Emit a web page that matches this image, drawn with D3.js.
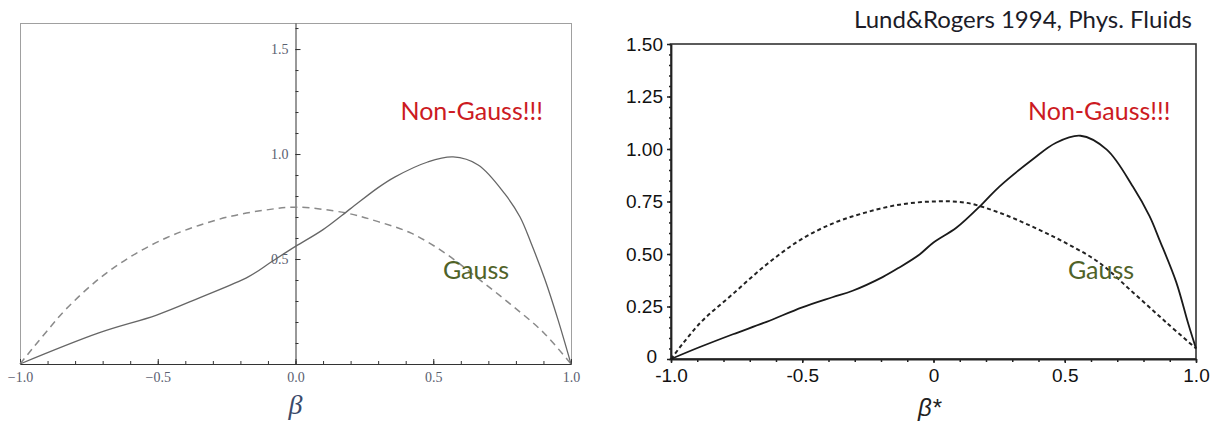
<!DOCTYPE html>
<html>
<head>
<meta charset="utf-8">
<script src="https://cdn.jsdelivr.net/npm/d3@7"></script>
<style>
  html, body { margin: 0; padding: 0; background: #fff; }
  svg { display: block; }
</style>
</head>
<body>
<div id="chart"></div>
<script>
// Left panel: model curves (Mathematica style plot)
const leftGaussBeta  = [-1.0, -0.957, -0.9, -0.834, -0.714, -0.594, -0.47, -0.351, -0.23, -0.11, 0.0, 0.18, 0.30, 0.42, 0.543, 0.66, 0.78, 0.90, 1.0];
const leftGaussValue = [0.0, 0.07, 0.16, 0.26, 0.405, 0.515, 0.6, 0.66, 0.705, 0.733, 0.747, 0.72, 0.678, 0.623, 0.528, 0.41, 0.285, 0.15, 0.0];
const leftNonGaussBeta  = [-1.0, -0.714, -0.504, -0.351, -0.17, -0.087, 0.0, 0.1, 0.2, 0.3, 0.36, 0.48, 0.572, 0.663, 0.76, 0.815, 0.855, 0.906, 0.953, 1.0];
const leftNonGaussValue = [0.0, 0.148, 0.233, 0.314, 0.416, 0.487, 0.56, 0.64, 0.74, 0.84, 0.89, 0.962, 0.986, 0.948, 0.81, 0.70, 0.576, 0.40, 0.21, 0.0];

// Right panel: Lund & Rogers 1994 curves
const rightGaussBeta  = [-1.0, -0.89, -0.764, -0.636, -0.51, -0.385, -0.26, -0.13, 0.0, 0.124, 0.25, 0.377, 0.5, 0.63, 0.76, 0.886, 1.0];
const rightGaussValue = [0.0, 0.17, 0.31, 0.45, 0.565, 0.645, 0.697, 0.735, 0.75, 0.744, 0.697, 0.63, 0.555, 0.46, 0.317, 0.175, 0.05];
const rightNonGaussBeta  = [-1.0, -0.89, -0.764, -0.636, -0.5, -0.385, -0.308, -0.194, -0.13, -0.053, 0.0, 0.087, 0.187, 0.25, 0.377, 0.467, 0.56, 0.66, 0.76, 0.823, 0.86, 0.925, 0.97, 1.0];
const rightNonGaussValue = [0.0, 0.057, 0.118, 0.177, 0.246, 0.294, 0.325, 0.39, 0.436, 0.498, 0.555, 0.625, 0.74, 0.82, 0.95, 1.03, 1.063, 0.997, 0.82, 0.68, 0.57, 0.365, 0.17, 0.05];

// Tick values and labels
const leftXTicks = [-1, -0.5, 0, 0.5, 1];
const leftXTickLabels = ["\u22121.0", "\u22120.5", "0.0", "0.5", "1.0"];
const leftYTicks = [0.5, 1.0, 1.5];
const leftYTickLabels = ["0.5", "1.0", "1.5"];
const rightXTicks = [-1, -0.5, 0, 0.5, 1];
const rightXTickLabels = ["-1.0", "-0.5", "0", "0.5", "1.0"];
const rightYTicks = [0, 0.25, 0.5, 0.75, 1.0, 1.25, 1.5];
const rightYTickLabels = ["0", "0.25", "0.50", "0.75", "1.00", "1.25", "1.50"];

const W = 1220, H = 424;

const svg = d3.select("#chart")
  .append("svg")
  .attr("width", W)
  .attr("height", H);

// Line generator factory
function lineFor(x, y) {
  return d3.line()
    .x(d => x(d[0]))
    .y(d => y(d[1]))
    .curve(d3.curveCatmullRom.alpha(0.5));
}

// Strip the default d3 axis font settings
function styleAxis(g, family, size, color) {
  g.attr("font-family", null).attr("font-size", null);
  g.selectAll("text")
    .attr("font-family", family)
    .attr("font-size", size)
    .attr("fill", color);
}

/* ---------------- Left panel ---------------- */
const lx = d3.scaleLinear().domain([-1, 1]).range([20, 571]);
const ly = d3.scaleLinear().domain([0, 1.624]).range([364, 23]);
const left = svg.append("g");

// Frame
left.append("rect")
  .attr("x", lx(-1) + 0.5)
  .attr("y", ly(1.624) + 0.5)
  .attr("width", lx(1) - lx(-1))
  .attr("height", ly(0) - ly(1.624))
  .attr("fill", "none")
  .attr("stroke", "#a0a0a0")
  .attr("stroke-width", 1);

// Minor x ticks
left.append("g")
  .attr("transform", "translate(0," + ly(0) + ")")
  .call(d3.axisBottom(lx).tickValues(lx.ticks(20)).tickSize(-3).tickSizeOuter(0).tickFormat(""))
  .call(g => g.select(".domain").remove())
  .selectAll("line").attr("stroke", "#333");

// Major x axis
const lgx = left.append("g")
  .attr("transform", "translate(0," + ly(0) + ")")
  .call(d3.axisBottom(lx).tickValues(leftXTicks).tickSize(-5).tickSizeOuter(0).tickPadding(8)
    .tickFormat((d, i) => leftXTickLabels[i]));
lgx.select(".domain").attr("stroke", "#333");
lgx.selectAll("line").attr("stroke", "#333");
styleAxis(lgx, "'Liberation Serif', serif", 14, "#5a6070");

// Minor y ticks
left.append("g")
  .attr("transform", "translate(" + lx(0) + ",0)")
  .call(d3.axisLeft(ly).tickValues(ly.ticks(16).filter(d => d > 0)).tickSize(-3).tickSizeOuter(0).tickFormat(""))
  .call(g => g.select(".domain").remove())
  .selectAll("line").attr("stroke", "#333");

// Major y axis
const lgy = left.append("g")
  .attr("transform", "translate(" + lx(0) + ",0)")
  .call(d3.axisLeft(ly).tickValues(leftYTicks).tickSize(-5).tickSizeOuter(0).tickPadding(7)
    .tickFormat((d, i) => leftYTickLabels[i]));
lgy.select(".domain").attr("stroke", "#333");
lgy.selectAll("line").attr("stroke", "#333");
styleAxis(lgy, "'Liberation Serif', serif", 14, "#5a6070");

// Curves
left.append("path")
  .datum(d3.zip(leftGaussBeta, leftGaussValue))
  .attr("d", lineFor(lx, ly))
  .attr("fill", "none")
  .attr("stroke", "#8a8a8a")
  .attr("stroke-width", 1.5)
  .attr("stroke-dasharray", "7,5");

left.append("path")
  .datum(d3.zip(leftNonGaussBeta, leftNonGaussValue))
  .attr("d", lineFor(lx, ly))
  .attr("fill", "none")
  .attr("stroke", "#666")
  .attr("stroke-width", 1.3);

// Axis label
left.append("text")
  .attr("x", lx(0))
  .attr("y", 414)
  .attr("text-anchor", "middle")
  .attr("font-family", "'Liberation Serif', serif")
  .attr("font-style", "italic")
  .attr("font-size", 28)
  .attr("fill", "#3a4a6a")
  .text("\u03b2");

// Annotations
left.append("text")
  .attr("x", lx(0.381))
  .attr("y", ly(1.162))
  .attr("font-family", "Lato, sans-serif")
  .attr("font-size", 25)
  .attr("fill", "#cc1a22")
  .text("Non-Gauss!!!");

left.append("text")
  .attr("x", lx(0.535))
  .attr("y", ly(0.405))
  .attr("font-family", "Lato, sans-serif")
  .attr("font-size", 25)
  .attr("fill", "#4f6228")
  .text("Gauss");

/* ---------------- Right panel ---------------- */
const rx = d3.scaleLinear().domain([-1, 1]).range([671, 1196]);
const ry = d3.scaleLinear().domain([0, 1.5]).range([359, 44]);
const right = svg.append("g");

// Frame
right.append("rect")
  .attr("x", rx(-1))
  .attr("y", ry(1.5))
  .attr("width", rx(1) - rx(-1))
  .attr("height", ry(0) - ry(1.5))
  .attr("fill", "none")
  .attr("stroke", "#333")
  .attr("stroke-width", 1.6);

// Minor x ticks
right.append("g")
  .attr("transform", "translate(0," + ry(0) + ")")
  .call(d3.axisBottom(rx).tickValues(rx.ticks(20)).tickSize(3).tickSizeOuter(0).tickFormat(""))
  .call(g => g.select(".domain").remove())
  .selectAll("line").attr("stroke", "#222").attr("stroke-width", 1.5);

// Major x axis
const rgx = right.append("g")
  .attr("transform", "translate(0," + ry(0) + ")")
  .call(d3.axisBottom(rx).tickValues(rightXTicks).tickSize(4).tickSizeOuter(0).tickPadding(6)
    .tickFormat((d, i) => rightXTickLabels[i]));
rgx.select(".domain").attr("stroke", "#222").attr("stroke-width", 1.8);
rgx.selectAll("line").attr("stroke", "#222").attr("stroke-width", 1.5);
styleAxis(rgx, "'Liberation Sans', Arial, sans-serif", 19, "#111");

// Minor y ticks
right.append("g")
  .attr("transform", "translate(" + rx(-1) + ",0)")
  .call(d3.axisLeft(ry).tickValues(ry.ticks(30)).tickSize(2).tickSizeOuter(0).tickFormat(""))
  .call(g => g.select(".domain").remove())
  .selectAll("line").attr("stroke", "#222").attr("stroke-width", 1.5);

// Major y axis
const rgy = right.append("g")
  .attr("transform", "translate(" + rx(-1) + ",0)")
  .call(d3.axisLeft(ry).tickValues(rightYTicks).tickSize(4).tickSizeOuter(0).tickPadding(4)
    .tickFormat((d, i) => rightYTickLabels[i]));
rgy.select(".domain").attr("stroke", "#222").attr("stroke-width", 1.8);
rgy.selectAll("line").attr("stroke", "#222").attr("stroke-width", 1.5);
styleAxis(rgy, "'Liberation Sans', Arial, sans-serif", 19, "#111");
// the zero label sits a little further left, clear of "-1.0"
rgy.selectAll(".tick text").filter(d => d === 0).attr("dx", -6).attr("dy", "0.2em");

// Curves
right.append("path")
  .datum(d3.zip(rightGaussBeta, rightGaussValue))
  .attr("d", lineFor(rx, ry))
  .attr("fill", "none")
  .attr("stroke", "#222")
  .attr("stroke-width", 2)
  .attr("stroke-dasharray", "4,3");

right.append("path")
  .datum(d3.zip(rightNonGaussBeta, rightNonGaussValue))
  .attr("d", lineFor(rx, ry))
  .attr("fill", "none")
  .attr("stroke", "#1a1a1a")
  .attr("stroke-width", 1.8);

// Axis label
right.append("text")
  .attr("x", rx(0) - 4)
  .attr("y", 416)
  .attr("text-anchor", "middle")
  .attr("font-family", "'Liberation Sans', Arial, sans-serif")
  .attr("font-style", "italic")
  .attr("font-size", 24)
  .attr("fill", "#222")
  .text("\u03b2*");

// Annotations
right.append("text")
  .attr("x", rx(0.36))
  .attr("y", ry(1.138))
  .attr("font-family", "Lato, sans-serif")
  .attr("font-size", 25)
  .attr("fill", "#cc1a22")
  .text("Non-Gauss!!!");

right.append("text")
  .attr("x", rx(0.512))
  .attr("y", ry(0.381))
  .attr("font-family", "Lato, sans-serif")
  .attr("font-size", 25)
  .attr("fill", "#4f6228")
  .text("Gauss");

// Source note
svg.append("text")
  .attr("x", 1192)
  .attr("y", 28)
  .attr("text-anchor", "end")
  .attr("font-family", "Lato, sans-serif")
  .attr("font-size", 24)
  .attr("fill", "#1c1c28")
  .text("Lund&Rogers 1994, Phys. Fluids");
</script>
</body>
</html>
